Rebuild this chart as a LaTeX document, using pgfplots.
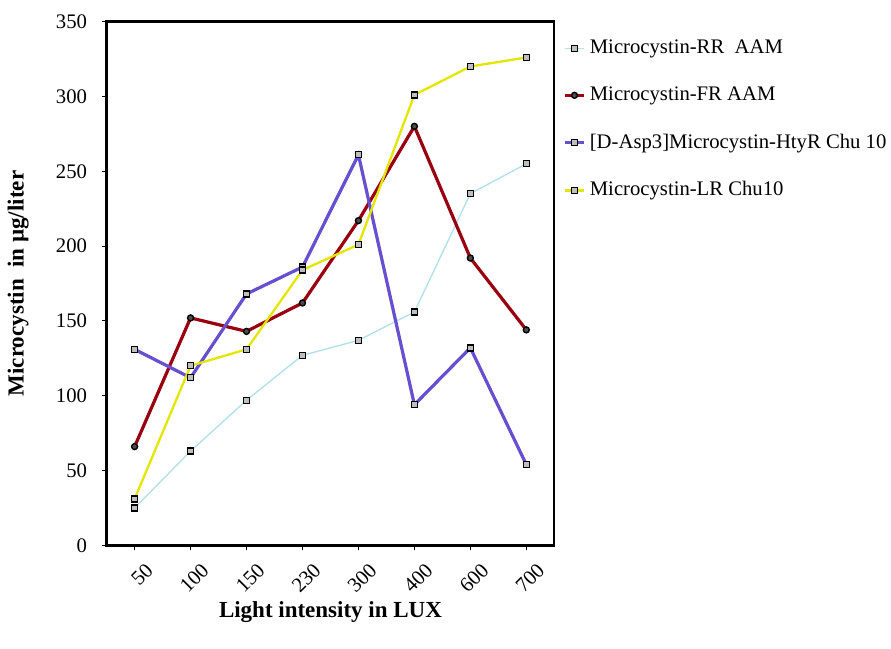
\documentclass[border=0pt]{standalone}
\usepackage{pgfplots}
\pgfplotsset{compat=1.18}
\usepackage{fontspec}
\setmainfont{Liberation Serif}
\definecolor{rrblue}{HTML}{B4E0EA}
\definecolor{frred}{HTML}{990010}
\definecolor{htyblue}{HTML}{6650D0}
\definecolor{lryellow}{HTML}{E2E600}
\begin{document}
\begin{tikzpicture}
\begin{axis}[
    scale only axis,
    width=194bp, height=227bp,
    xmin=-0.5, xmax=7.5,
    ymin=0, ymax=350,
    xtick={0,...,7},
    xticklabels={50,100,150,230,300,400,600,700},
    xticklabel style={rotate=45, anchor=north east, font=\small, inner sep=0.5pt, yshift=-6pt},
    ytick={0,50,...,350},
    yticklabel style={font=\small, xshift=-3pt},
    /pgf/number format/assume math mode=true,
    xtick pos=bottom, ytick pos=left,
    tick align=outside,
    tick style={black, thin},
    major tick length=2pt,
    axis line style={black, line width=1pt},
    xlabel={\textbf{Light intensity in LUX}},
    ylabel={\textbf{Microcystin\ \ in µg/liter}},
    xlabel style={yshift=1pt},
    ylabel style={yshift=5pt},
    legend style={at={(1.02,0.975)}, anchor=north west, draw=none, fill=none,
        font=\small, row sep=9pt, inner sep=0pt},
    legend cell align=left,
    legend image code/.code={
        \draw[#1] (0cm,0cm) -- (0.28cm,0cm);
        \draw[#1, mark repeat=2, mark phase=2] plot coordinates {(0cm,0cm) (0.14cm,0cm) (0.28cm,0cm)};
    },
    every axis plot/.append style={mark=square*, mark size=1.3pt,
        mark options={solid, draw=black, fill=gray!50, line width=0.6pt}},
]
\addplot[rrblue, line width=0.6pt] coordinates {
    (0,25) (1,63) (2,97) (3,127) (4,137) (5,156) (6,235) (7,255)
};
\addlegendentry{Microcystin-RR\ \ AAM}
\addplot[frred, line width=1.4pt, mark=*, mark options={solid, draw=black, fill=black!70, line width=0.6pt}] coordinates {
    (0,66) (1,152) (2,143) (3,162) (4,217) (5,280) (6,192) (7,144)
};
\addlegendentry{Microcystin-FR AAM}
\addplot[htyblue, line width=1.4pt] coordinates {
    (0,131) (1,112) (2,168) (3,186) (4,261) (5,94) (6,132) (7,54)
};
\addlegendentry{[D-Asp3]Microcystin-HtyR Chu 10}
\addplot[lryellow, line width=1pt] coordinates {
    (0,31) (1,120) (2,131) (3,184) (4,201) (5,301) (6,320) (7,326)
};
\addlegendentry{Microcystin-LR Chu10}
\end{axis}
\path (current bounding box.north west) ++(0,3bp) coordinate (t);
\path (current bounding box.south west) ++(0,-8bp) coordinate (b);
\path (t) rectangle (b);
\end{tikzpicture}
\end{document}
